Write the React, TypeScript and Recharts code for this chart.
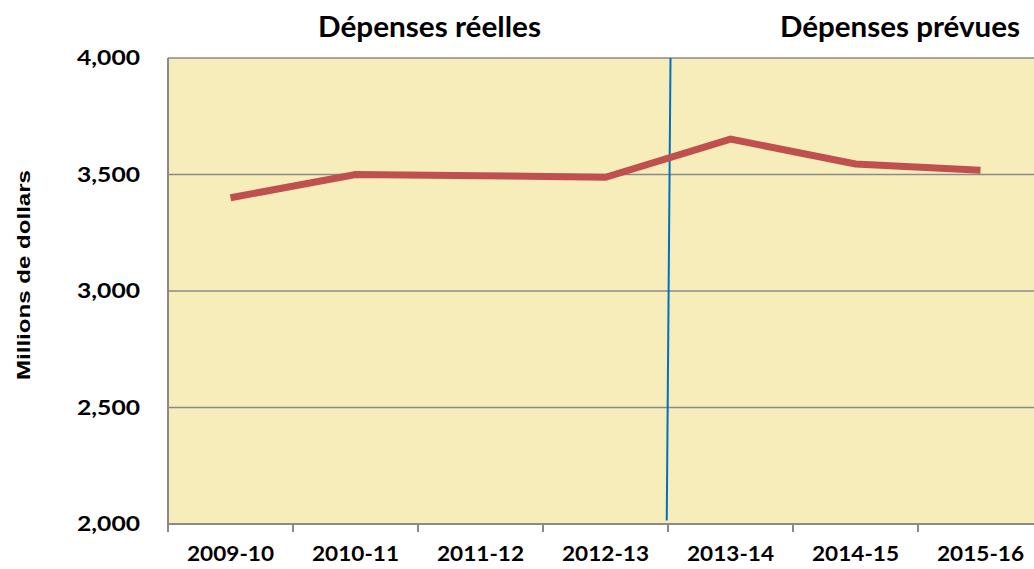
import React from 'react';
import { LineChart, Line, XAxis, YAxis, CartesianGrid, ReferenceLine } from 'recharts';

const categories = ['2009-10', '2010-11', '2011-12', '2012-13', '2013-14', '2014-15', '2015-16'];
const spending = [3400, 3500, 3495, 3488, 3652, 3545, 3518];
const yTicks = [2000, 2500, 3000, 3500, 4000];
const titles = ['Dépenses réelles', 'Dépenses prévues'];
const yLabel = 'Millions de dollars';

const data = categories.map((c, i) => ({ x: i, value: spending[i] }));
const xTicks: number[] = [];
for (let i = 0; i < categories.length; i++) {
  xTicks.push(i - 0.5, i);
}
xTicks.push(categories.length - 0.5);

const FONT = 'Lato, "Open Sans", sans-serif';
const GRAY = '#8a8a8a';

const XTick = (props: any) => {
  const { x, y, payload } = props;
  const v = payload.value as number;
  if (Math.abs(v - Math.round(v)) > 0.01) {
    return <line x1={x} x2={x} y1={y} y2={y + 8} stroke={GRAY} strokeWidth={2} />;
  }
  return (
    <text
      x={x}
      y={y + 37}
      textAnchor="middle"
      fontFamily={FONT}
      fontWeight={700}
      fontSize={20}
      fill="#000"
      textLength={87}
      lengthAdjust="spacingAndGlyphs"
    >
      {categories[Math.round(v)]}
    </text>
  );
};

const YTick = (props: any) => {
  const { x, y, payload } = props;
  const label = (payload.value as number).toLocaleString('en-US');
  return (
    <text
      x={x}
      y={y}
      dy="0.36em"
      textAnchor="end"
      fontFamily={FONT}
      fontWeight={700}
      fontSize={20}
      fill="#000"
      textLength={63}
      lengthAdjust="spacingAndGlyphs"
    >
      {label}
    </text>
  );
};

export default function App() {
  return (
    <div style={{ position: 'absolute', left: 0, top: 0, width: 1034, height: 569, overflow: 'hidden', background: '#fff' }}>
      <LineChart width={1050} height={569} data={data} margin={{ top: 58, right: 7, bottom: 0, left: 0 }}>
        <CartesianGrid horizontal vertical={false} stroke={GRAY} strokeWidth={1.6} fill="#F6EDBB" fillOpacity={1} />
        <XAxis
          dataKey="x"
          type="number"
          domain={[-0.5, 6.5]}
          ticks={xTicks}
          interval={0}
          height={45}
          axisLine={{ stroke: GRAY, strokeWidth: 2 }}
          tickLine={false}
          tickSize={0}
          tickMargin={0}
          tick={<XTick />}
        />
        <YAxis
          type="number"
          domain={[2000, 4000]}
          ticks={yTicks}
          width={168}
          interval={0}
          axisLine={{ stroke: GRAY, strokeWidth: 2 }}
          tickLine={false}
          tickSize={0}
          tickMargin={28}
          tick={<YTick />}
        />
        <ReferenceLine
          segment={[{ x: 3.52, y: 4000 }, { x: 3.49, y: 2015 }]}
          stroke="#0070C0"
          strokeWidth={2}
        />
        <Line
          type="linear"
          dataKey="value"
          stroke="#C0504D"
          strokeWidth={7}
          dot={false}
          activeDot={false}
          isAnimationActive={false}
        />
      </LineChart>
      <svg width={1034} height={569} style={{ position: 'absolute', left: 0, top: 0, pointerEvents: 'none' }}>
        <text x={318} y={37} fontFamily={FONT} fontWeight={700} fontSize={29} fill="#000" textLength={223} lengthAdjust="spacingAndGlyphs">{titles[0]}</text>
        <text x={780} y={37} fontFamily={FONT} fontWeight={700} fontSize={29} fill="#000" textLength={240} lengthAdjust="spacingAndGlyphs">{titles[1]}</text>
        <text
          x={0}
          y={0}
          transform="translate(30,275) rotate(-90)"
          textAnchor="middle"
          fontFamily='"Liberation Sans", Arial, sans-serif'
          fontWeight={700}
          fontSize={19}
          fill="#000"
          textLength={210}
          lengthAdjust="spacingAndGlyphs"
        >
          {yLabel}
        </text>
      </svg>
    </div>
  );
}
